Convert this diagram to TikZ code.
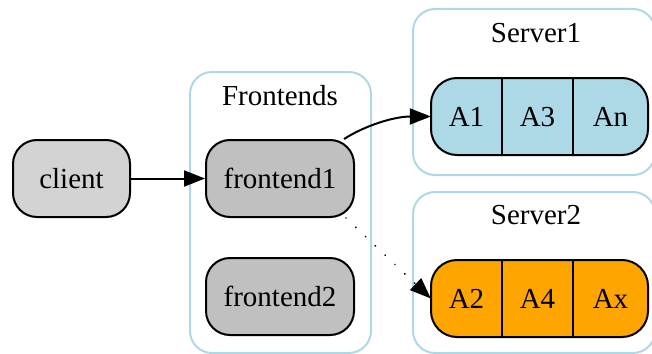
\documentclass[tikz,border=0pt]{standalone}
\usepackage{fontspec}
\setmainfont{Liberation Serif}
\usetikzlibrary{arrows.meta}
\definecolor{lblue}{HTML}{ADD8E6}
\definecolor{lgray}{HTML}{D3D3D3}
\definecolor{mgray}{HTML}{C0C0C0}
\definecolor{orng}{HTML}{FFA500}
\tikzset{
  txt/.style={font=\fontsize{29}{33}\selectfont, text height=19pt, text depth=0pt},
  box/.style={txt, draw, line width=2pt, rounded corners=24pt,
    minimum width=148pt, minimum height=77pt, inner sep=0pt},
  cluster/.style={draw=lblue, line width=2pt, rounded corners=22pt, inner sep=0pt},
  ctitle/.style={font=\fontsize{29}{33}\selectfont, anchor=base},
  record/.style={draw, line width=2pt, rounded corners=26pt,
    minimum width=217pt, minimum height=77pt, inner sep=0pt},
  field/.style={txt, minimum width=71pt, minimum height=77pt, inner sep=0pt},
  divider/.style={line width=2pt},
  link/.style={line width=2pt, -{Triangle[length=21pt,width=16pt]}},
  dots/.style={link, line cap=round, dash pattern=on 0.01pt off 13.5pt}
}
\begin{document}
\begin{tikzpicture}[x=1pt,y=-1pt]
\useasboundingbox (0,0) rectangle (652,353);
\clip (0,0) rectangle (652,353);

% clusters
\node[cluster, minimum width=181pt, minimum height=281pt] (cf) at (280.5,212.5) {};
\node[cluster, minimum width=242pt, minimum height=166pt] (cs1) at (534,92) {};
\node[cluster, minimum width=242pt, minimum height=161pt] (cs2) at (534,272.5) {};
\node[ctitle] (tf) at (280,105) {Frontends};
\node[ctitle] (ts1) at (536,43) {Server1};
\node[ctitle] (ts2) at (536,224) {Server2};

% plain nodes
\node[box, fill=lgray, minimum width=117pt] (client) at (71.5,178.5) {client};
\node[box, fill=mgray] (f1) at (280,178.5) {frontend1};
\node[box, fill=mgray] (f2) at (280,296.5) {frontend2};

% record on Server1
\node[record, fill=lblue] (s1) at (539.5,116.5) {};
\node[field] (a1) at (466.5,116.5) {A1};
\node[field] (a3) at (537.5,116.5) {A3};
\node[field] (an) at (610.5,116.5) {An};
\draw[divider] (a1.north east) -- (a1.south east);
\draw[divider] (a3.north east) -- (a3.south east);

% record on Server2
\node[record, fill=orng] (s2) at (539.5,298.5) {};
\node[field] (a2) at (466.5,298.5) {A2};
\node[field] (a4) at (537.5,298.5) {A4};
\node[field] (ax) at (610.5,298.5) {Ax};
\draw[divider] (a2.north east) -- (a2.south east);
\draw[divider] (a4.north east) -- (a4.south east);

% connectors
\draw[link] (client) -- (f1);
\draw[link] ([xshift=-11pt]f1.north east) .. controls +(22,-14) and +(-36,0) .. (a1.west);
\draw[dots] ([xshift=-9pt]f1.south east) -- (a2.west);
\end{tikzpicture}
\end{document}
